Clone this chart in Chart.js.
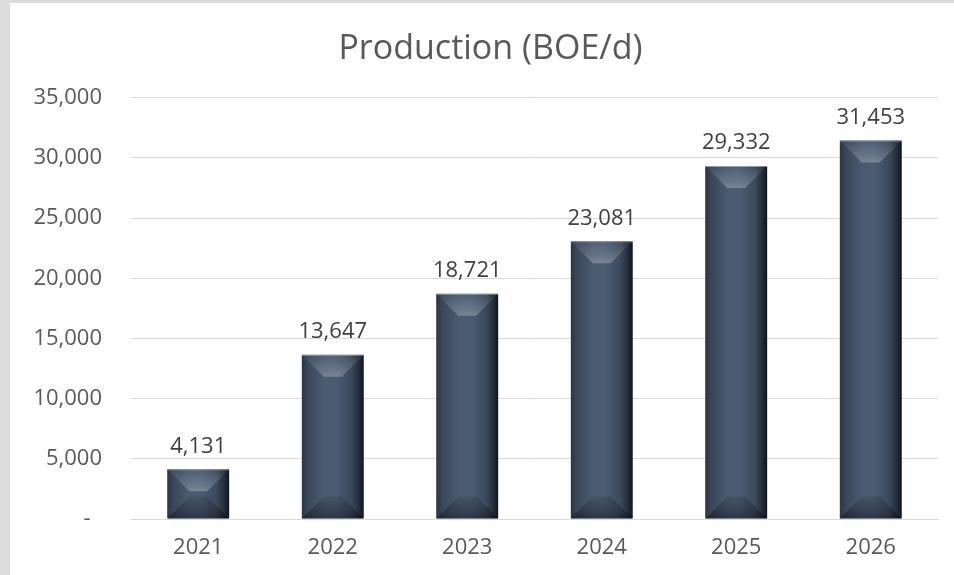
<!DOCTYPE html>
<html>
<head>
<meta charset="utf-8">
<script src="https://cdn.jsdelivr.net/npm/chart.js@4"></script>
<style>
  html, body { margin: 0; padding: 0; }
  body { width: 954px; height: 575px; background: #dcdcdc; position: relative; overflow: hidden; }
  #frame { position: absolute; left: 10px; top: 3px; width: 944px; height: 572px; background: #ffffff; }
  canvas { display: block; }
</style>
</head>
<body>
<div id="frame"><canvas id="chart" width="944" height="572"></canvas></div>
<script>
// Annual production, barrels of oil equivalent per day
const years = ['2021', '2022', '2023', '2024', '2025', '2026'];
const production = [4131, 13647, 18721, 23081, 29332, 31453];
const yTicks = [0, 5000, 10000, 15000, 20000, 25000, 30000, 35000];

const FONT = '"Open Sans", "Liberation Sans", sans-serif';
const fmt = v => v.toLocaleString('en-US');

// Paints each bar with a bevelled, shaded face and writes its value above it
const bevelBars = {
  id: 'bevelBars',
  afterDatasetsDraw(chart) {
    const ctx = chart.ctx;
    const meta = chart.getDatasetMeta(0);
    meta.data.forEach((bar, i) => {
      const p = bar.getProps(['x', 'y', 'base', 'width'], true);
      const l = p.x - p.width / 2, r = p.x + p.width / 2;
      const t = Math.min(p.y, p.base), b = Math.max(p.y, p.base);
      const h = b - t, w = r - l;
      const bv = Math.min(22, h / 2, w / 2);
      ctx.save();
      ctx.beginPath(); ctx.rect(l, t, w, h); ctx.clip();

      // body: horizontal shading, darkest on the right edge
      const g = ctx.createLinearGradient(l, 0, r, 0);
      g.addColorStop(0, '#2b3545');
      g.addColorStop(0.1, '#3a475a');
      g.addColorStop(0.35, '#4a5a71');
      g.addColorStop(0.55, '#4c5c73');
      g.addColorStop(0.8, '#3c495c');
      g.addColorStop(0.93, '#222b37');
      g.addColorStop(1, '#0f141b');
      ctx.fillStyle = g;
      ctx.fillRect(l, t, w, h);

      // top bevel
      const gt = ctx.createLinearGradient(0, t, 0, t + bv);
      gt.addColorStop(0, 'rgba(255,255,255,0.02)');
      gt.addColorStop(0.75, 'rgba(255,255,255,0.18)');
      gt.addColorStop(1, 'rgba(255,255,255,0.26)');
      ctx.fillStyle = gt;
      ctx.beginPath();
      ctx.moveTo(l, t); ctx.lineTo(r, t);
      ctx.lineTo(r - bv, t + bv); ctx.lineTo(l + bv, t + bv);
      ctx.closePath(); ctx.fill();

      // bottom bevel
      const gb = ctx.createLinearGradient(0, b - bv, 0, b);
      gb.addColorStop(0, 'rgba(0,0,0,0.10)');
      gb.addColorStop(0.6, 'rgba(0,0,0,0.25)');
      gb.addColorStop(1, 'rgba(0,0,0,0.40)');
      ctx.fillStyle = gb;
      ctx.beginPath();
      ctx.moveTo(l, b); ctx.lineTo(r, b);
      ctx.lineTo(r - bv, b - bv); ctx.lineTo(l + bv, b - bv);
      ctx.closePath(); ctx.fill();

      // thin light rim along the top
      ctx.fillStyle = 'rgba(200,208,220,0.6)';
      ctx.fillRect(l, t, w, 1);
      ctx.restore();

      // value label
      ctx.save();
      ctx.font = '22px ' + FONT;
      ctx.fillStyle = '#404040';
      ctx.textAlign = 'center';
      ctx.textBaseline = 'middle';
      ctx.fillText(fmt(production[i]), p.x, t - 23);
      ctx.restore();
    });
  }
};

new Chart(document.getElementById('chart'), {
  type: 'bar',
  data: {
    labels: years,
    datasets: [{
      label: 'Production (BOE/d)',
      data: production,
      backgroundColor: '#44546a',
      borderWidth: 0,
      categoryPercentage: 1,
      barPercentage: 0.46
    }]
  },
  options: {
    responsive: false,
    animation: false,
    layout: { padding: { left: 17, right: 0, top: 26, bottom: 0 } },
    plugins: {
      legend: { display: false },
      tooltip: { enabled: false },
      title: {
        display: true,
        text: 'Production (BOE/d)',
        color: '#595959',
        font: { family: FONT, size: 34, weight: 'normal', lineHeight: 1.2 },
        padding: { top: 0, bottom: 28 }
      }
    },
    scales: {
      x: {
        grid: { display: false, drawTicks: false },
        border: { display: true, color: '#d9d9d9', width: 1 },
        ticks: { color: '#595959', font: { family: FONT, size: 22 }, padding: 16 },
        afterFit(scale) { scale.height = 56; }
      },
      y: {
        min: 0,
        max: 35000,
        afterBuildTicks(scale) { scale.ticks = yTicks.map(v => ({ value: v })); },
        grid: { color: '#d9d9d9', lineWidth: 1, drawTicks: false },
        border: { display: false },
        ticks: {
          color: '#595959',
          font: { family: FONT, size: 22 },
          padding: 29,
          callback: v => (v === 0 ? '-  ' : fmt(v))
        },
        afterFit(scale) { scale.width = 104; }
      },
      // empty margin strip on the right of the plot
      yRight: {
        type: 'linear',
        position: 'right',
        grid: { display: false, drawTicks: false },
        border: { display: false },
        ticks: { display: false },
        afterFit(scale) { scale.width = 16; }
      }
    }
  },
  plugins: [bevelBars]
});
</script>
</body>
</html>
